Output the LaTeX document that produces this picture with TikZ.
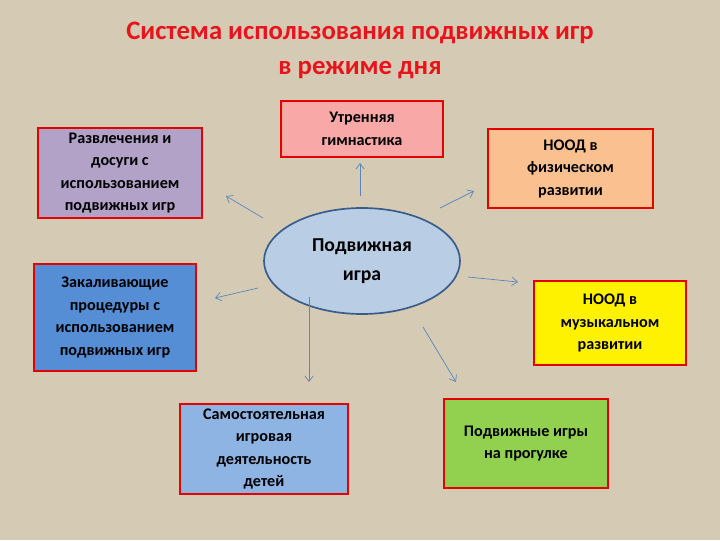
\documentclass[tikz,border=0pt]{standalone}
\usepackage{fontspec}
\setmainfont{Carlito}
\usetikzlibrary{shapes.geometric,arrows.meta}
\definecolor{bg}{HTML}{D5CBB5}
\definecolor{titlered}{HTML}{E8141B}
\definecolor{arrowblue}{HTML}{5A86BE}
\tikzset{
    box/.style={draw=red!90!black, line width=1.1pt, align=center, font=\bfseries\fontsize{11.5}{16}\selectfont, inner sep=2pt},
    arr/.style={-{Straight Barb[length=4pt,width=6pt]}, draw=arrowblue, line width=0.5pt}
}
\begin{document}
\begin{tikzpicture}[x=0.025cm, y=-0.025cm]

    % background
    \fill[bg] (0,0) rectangle (720,540);

    % title
    \node[font=\bfseries\fontsize{19}{25}\selectfont, text=titlered, align=center] (title) at (360,50)
        {Система использования подвижных игр\\в режиме дня};

    % --- centre ---
    \node[ellipse, draw={rgb,255:red,56;green,93;blue,138}, line width=1.2pt, fill={rgb,255:red,185;green,205;blue,229},
          minimum width=196*0.025cm, minimum height=106*0.025cm, inner sep=0pt, align=center,
          font=\bfseries\fontsize{14}{21}\selectfont] (game) at (362,261) {Подвижная\\игра};

    % --- boxes ---
    \node[box, fill={rgb,255:red,249;green,168;blue,168}, minimum width=162*0.025cm, minimum height=56*0.025cm] (gym) at (362,129) {Утренняя\\гимнастика};
    \node[box, fill={rgb,255:red,250;green,192;blue,144}, minimum width=165*0.025cm, minimum height=79*0.025cm] (phys) at (570.5,168.5) {НООД в\\физическом\\развитии};
    \node[box, fill={rgb,255:red,179;green,162;blue,199}, minimum width=164*0.025cm, minimum height=90*0.025cm] (fun) at (120,173) {Развлечения и\\досуги с\\использованием\\подвижных игр};
    \node[box, fill={rgb,255:red,85;green,142;blue,213}, minimum width=162*0.025cm, minimum height=107*0.025cm] (hard) at (115,317.5) {Закаливающие\\процедуры с\\использованием\\подвижных игр};
    \node[box, fill=yellow, minimum width=152*0.025cm, minimum height=84*0.025cm] (music) at (610,323) {НООД в\\музыкальном\\развитии};
    \node[box, fill={rgb,255:red,142;green,180;blue,227}, minimum width=168*0.025cm, minimum height=90*0.025cm] (self) at (264,449) {Самостоятельная\\игровая\\деятельность\\детей};
    \node[box, fill={rgb,255:red,146;green,208;blue,80}, minimum width=164*0.025cm, minimum height=89*0.025cm] (walk) at (526,443.5) {Подвижные игры\\на прогулке};

    % --- arrow ends ---
    \coordinate (a1) at (360,196);
    \coordinate (b1) at (360,163);
    \coordinate (a2) at (440,208);
    \coordinate (b2) at (474,191);
    \coordinate (a3) at (263,218);
    \coordinate (b3) at (226,196);
    \coordinate (a4) at (468,277);
    \coordinate (b4) at (518,282);
    \coordinate (a5) at (258,288);
    \coordinate (b5) at (215,298);
    \coordinate (a6) at (309,297);
    \coordinate (b6) at (309,382);
    \coordinate (a7) at (423,327);
    \coordinate (b7) at (456,382);

    \foreach \i in {1,...,7} {%
        \draw[arr] (a\i) -- (b\i);%
    }

\end{tikzpicture}
\end{document}
